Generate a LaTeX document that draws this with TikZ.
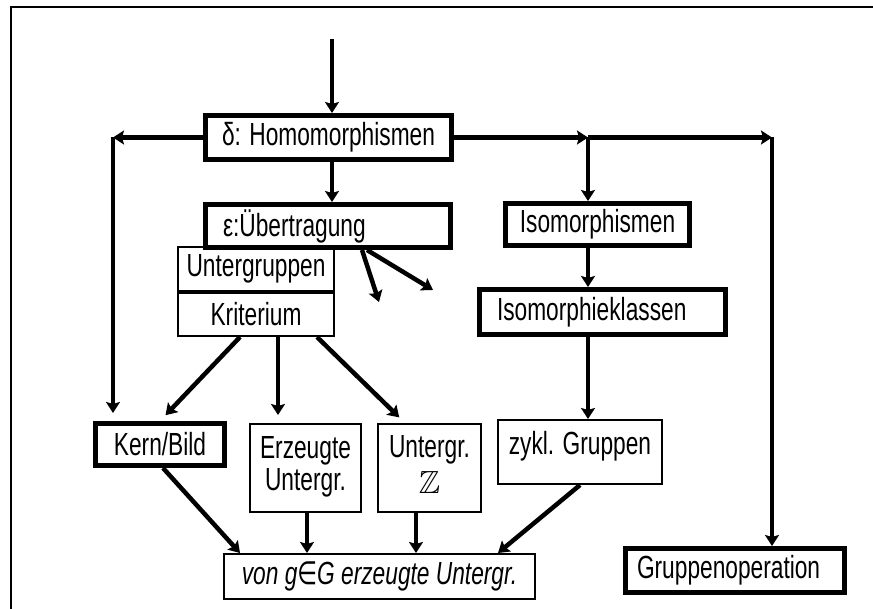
\documentclass[tikz,border=0pt]{standalone}
\usepackage{fontspec}
\setmainfont{Liberation Sans}[FakeStretch=0.71]
\newfontfamily\symfont{DejaVu Sans}[FakeStretch=0.71]
\usepackage{amssymb}
\usetikzlibrary{arrows.meta}

\begin{document}
\begin{tikzpicture}[x=1pt, y=-1pt,
            >={Stealth[length=11pt, width=14pt, inset=2pt]},
            font=\fontsize{32}{32}\selectfont,
            box/.style={draw, line width=2pt, fill=white, inner sep=0pt, align=center},
            thickbox/.style={box, line width=5pt},
            leftbox/.style={thickbox, align=left},
            conn/.style={->, line width=4.5pt},
            gap/.style={shorten >=8pt}]

            \useasboundingbox (0,0) rectangle (873,609);
            \draw[line width=2pt] (11,609) -- (11,7) -- (873,7);

            \coordinate (top) at (332,39);
            \coordinate (L) at (113,137.5);
            \coordinate (R1) at (588,137.5);
            \coordinate (R2) at (772,137.5);
            \coordinate (d1) at (379,302);
            \coordinate (d2) at (433,290);

            \node[thickbox, minimum width=246pt, minimum height=44pt] (homo) at (328.5,137.5) {δ: Homomorphismen};
            \node[box, minimum width=156pt, minimum height=44pt] (untgr) at (256,269) {Untergruppen};
            \node[box, minimum width=156pt, minimum height=43pt] (krit) at (256,314.5) {Kriterium};
            \node[leftbox, text width=210pt, inner xsep=17.5pt, minimum height=43pt] (ueber) at (328,226) {ε:Übertragung};
            \node[thickbox, minimum width=184pt, minimum height=42pt] (iso) at (597.5,224.5) {Isomorphismen};
            \node[leftbox, text width=211pt, inner xsep=17.5pt, minimum height=45pt] (isok) at (602.5,312) {Isomorphieklassen};
            \node[thickbox, minimum width=129pt, minimum height=42pt] (kern) at (160,444.5) {Kern/Bild};
            \node[box, minimum width=111pt, minimum height=88pt, text depth=10pt] (erz) at (305.5,468) {Erzeugte\\Untergr.};
            \node[box, minimum width=103pt, minimum height=88pt, text depth=8pt] (uz) at (429.5,468) {Untergr.\\[4pt]$\mathbb{Z}$};
            \node[box, minimum width=164pt, minimum height=64pt, text depth=18pt] (zykl) at (580,452) {zykl. Gruppen};
            \node[box, minimum width=311pt, minimum height=45pt] (von) at (379.5,576.5) {\itshape von g{\symfont ∈}G erzeugte Untergr.};
            \node[leftbox, text width=196pt, inner xsep=11.5pt, minimum height=44pt] (gop) at (735,570.5) {Gruppenoperation};

            \draw[conn] (top) -- (top |- homo.north);
            \draw[conn] (homo.west) -- (L);
            \draw[conn, gap] (L) -- (L |- kern.north);
            \draw[conn] (homo.east) -- (R1);
            \draw[conn] (R1) -- (R2);
            \draw[conn] (R1) -- (R1 |- iso.north);
            \draw[conn] (R2) -- (R2 |- gop.north);
            \draw[conn] (top |- homo.south) -- (top |- ueber.north);
            \draw[conn] ([xshift=34pt]ueber.south) -- (d1);
            \draw[conn] ([xshift=39pt]ueber.south) -- (d2);
            \draw[conn] (R1 |- iso.south) -- (R1 |- isok.north);
            \draw[conn] (R1 |- isok.south) -- (R1 |- zykl.north);

            \draw[conn, gap] ([xshift=-16pt]krit.south) -- (kern.north);
            \draw[conn, gap] ([xshift=22pt]krit.south) -- ([xshift=-27.5pt]erz.north);
            \draw[conn, gap] ([xshift=61pt]krit.south) -- ([xshift=-24.5pt]uz.north);

            \draw[conn] ([xshift=3pt]kern.south) -- ([xshift=-139.5pt]von.north);
            \draw[conn] ([xshift=1.5pt]erz.south) -- ([xshift=-72.5pt]von.north);
            \draw[conn] ([xshift=-13.5pt]uz.south) -- ([xshift=36.5pt]von.north);
            \draw[conn] (zykl.south) -- ([xshift=118.5pt]von.north);
        \end{tikzpicture}
\end{document}
